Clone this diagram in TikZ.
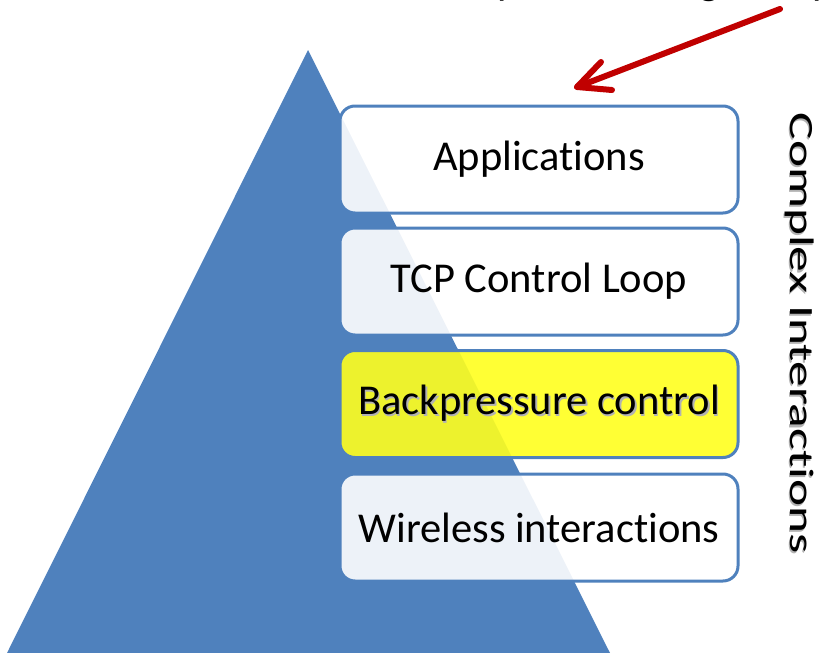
\documentclass[tikz,border=0pt]{standalone}
\usepackage{fontspec}
\setmainfont[Ligatures=NoCommon]{Carlito}
\definecolor{triblue}{HTML}{4F81BD}
\definecolor{arrred}{HTML}{C00000}
\definecolor{hiyellow}{HTML}{FFFF1E}
\newcommand\shadowed[1]{\makebox[0pt][l]{\raisebox{-1.5pt}{\hspace{1.5pt}\textcolor{black!30}{#1}}}#1}
\newcommand\lowered[1]{\raisebox{-3pt}{#1}}
\tikzset{
  layerbox/.style={draw=triblue, line width=3pt, rounded corners=15pt,
    minimum width=398pt, minimum height=107pt, fill=white, fill opacity=0.9,
    text opacity=1, inner sep=0pt, font=\fontsize{42.5}{50}\selectfont},
  hibox/.style={layerbox, fill=hiyellow},
  redarrow/.style={draw=arrred, line width=6pt, line cap=round, line join=round},
  sidelabel/.style={rotate=-90, inner sep=0pt, font=\fontsize{34}{40}\selectfont},
  cuttext/.style={anchor=base west, inner sep=0pt, font=\fontsize{42}{50}\selectfont}
}
\begin{document}
\begin{tikzpicture}[x=1pt,y=-1pt]
\useasboundingbox (0,0) rectangle (825,653);
\begin{scope}
\clip (0,0) rectangle (825,653);
% cut-off text line at the top
\node[cuttext] (t1) at (497,-5.5) {p};
\node[cuttext] (t2) at (699,-5.5) {g};
\node[cuttext] (t3) at (812,-5.5) {p};
% triangle
\fill[triblue] (308,50) -- (610,653) -- (7,653) -- cycle;
\end{scope}
% layers
\node[layerbox] (app) at (539,159.5) {\lowered{Applications}};
\node[layerbox] (tcp) at (539,281.5) {\lowered{TCP Control Loop}};
\node[hibox] (bp) at (539,404) {\lowered{\shadowed{Backpressure control}}};
\node[layerbox] (wl) at (539,527.5) {\lowered{Wireless interactions}};
% side label
\node[sidelabel] (cx) at (799,333) {\scalebox{1.51}[1]{\shadowed{Complex Interactions}}};
% red arrow
\coordinate (tail) at (780,9);
\coordinate (tip) at (577,87);
\coordinate (w1) at (601,62);
\coordinate (w2) at (612,90);
\draw[redarrow] (tail) -- (tip);
\draw[redarrow] (w1) -- (tip) -- (w2);
\end{tikzpicture}
\end{document}
